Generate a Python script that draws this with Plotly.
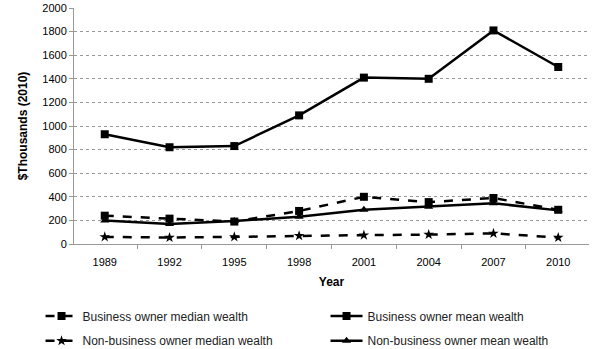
import plotly.graph_objects as go

years = ["1989", "1992", "1995", "1998", "2001", "2004", "2007", "2010"]
biz_median = [240, 215, 190, 280, 400, 355, 390, 290]
biz_mean = [930, 820, 830, 1090, 1410, 1400, 1810, 1500]
nonbiz_median = [60, 55, 60, 70, 75, 80, 90, 55]
nonbiz_mean = [200, 170, 195, 230, 290, 315, 345, 285]
y_ticks = [0, 200, 400, 600, 800, 1000, 1200, 1400, 1600, 1800, 2000]

FONT = "Liberation Sans, Arial, sans-serif"

fig = go.Figure()
series = [
    ("Business owner median wealth", biz_median, "dash", "square", "legend"),
    ("Business owner mean wealth", biz_mean, "solid", "square", "legend"),
    ("Non-business owner median wealth", nonbiz_median, "dash", "star", "legend2"),
    ("Non-business owner mean wealth", nonbiz_mean, "solid", "triangle-up", "legend2"),
]
for name, vals, dash, sym, leg in series:
    fig.add_trace(go.Scatter(
        x=years, y=vals, name=name, mode="lines+markers", legend=leg,
        line=dict(color="black", width=2.5, dash=dash),
        marker=dict(symbol=sym, size=8, color="black"),
    ))

legend_style = dict(
    orientation="h", x=-0.065, xanchor="left", yanchor="middle",
    entrywidth=238, entrywidthmode="pixels",
    font=dict(size=12, color="#222"), itemwidth=32,
    bgcolor="rgba(0,0,0,0)",
)

fig.update_layout(
    width=600, height=349,
    margin=dict(l=74, r=11, t=8, b=105, autoexpand=False),
    paper_bgcolor="white", plot_bgcolor="white",
    font=dict(family=FONT, size=11, color="black"),
    legend=dict(legend_style, y=-0.305),
    legend2=dict(legend_style, y=-0.41),
    showlegend=True,
)
fig.update_xaxes(
    type="category", tickson="boundaries", ticks="outside", ticklen=4,
    tickcolor="#999", showline=True, linecolor="#999", linewidth=1,
    showgrid=False, ticklabelstandoff=8,
    title=dict(text="<b>Year</b>", font=dict(size=12), standoff=10),
)
fig.update_yaxes(
    range=[0, 2000], tickvals=y_ticks, ticks="outside", ticklen=4,
    tickcolor="#999", showline=True, linecolor="#999", linewidth=1,
    showgrid=True, gridcolor="#999", griddash="dot", gridwidth=1,
    zeroline=False,
    title=dict(text="<b>$Thousands (2010)</b>", font=dict(size=12), standoff=12),
)

fig.write_html("out.html")
